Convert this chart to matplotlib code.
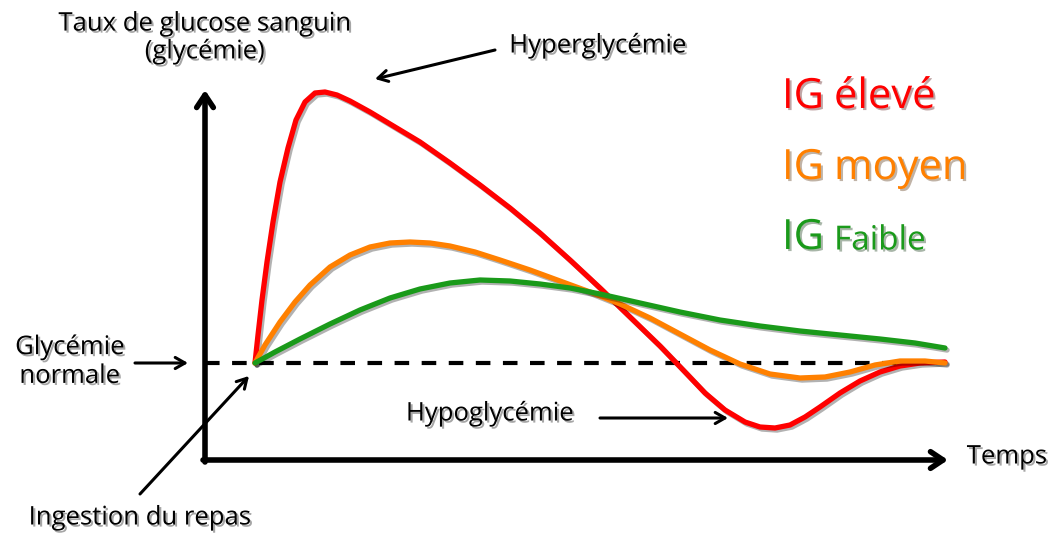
import matplotlib
matplotlib.use("Agg")
import matplotlib.pyplot as plt
import matplotlib.patheffects as pe

# curve points (x, y in image pixels, y grows downward)
red_x = [255, 258, 262, 267, 273, 280, 288, 296, 305, 315, 325, 337, 350, 370, 395, 420, 450, 480, 510,
         540, 570, 600, 630, 660, 685, 705, 725, 745, 760, 775, 790, 805, 820, 840, 860, 880, 900, 920, 945]
red_y = [363, 335, 300, 262, 222, 182, 148, 120, 102, 93, 92, 95, 101, 112, 127, 142, 163, 185, 208,
         233, 260, 288, 317, 346, 372, 393, 410, 422, 427, 428, 425, 417, 407, 393, 381, 372, 366, 363, 362]
orange_x = [255, 265, 280, 295, 310, 330, 350, 370, 390, 410, 430, 450, 475, 500, 530, 560, 590, 620,
            650, 680, 710, 740, 770, 800, 825, 850, 875, 900, 925, 945]
orange_y = [363, 345, 322, 302, 285, 267, 255, 247, 243, 242, 243, 246, 252, 260, 270, 281, 292, 304,
            318, 334, 350, 364, 374, 378, 377, 372, 365, 361, 361, 363]
green_x = [255, 275, 300, 330, 360, 390, 420, 450, 480, 510, 540, 570, 600, 640, 680, 720, 760, 800,
           840, 880, 915, 945]
green_y = [363, 352, 339, 324, 310, 298, 289, 283, 280, 281, 284, 288, 294, 303, 312, 320, 326, 331,
           335, 339, 343, 348]

series = [("élevé", red_x, red_y, "#ff0000", 97),
          ("moyen", orange_x, orange_y, "#ff8000", 168),
          ("Faible", green_x, green_y, "#1a9a1a", 238)]

normal_level = 363
W, H = 1051, 536

fig = plt.figure(figsize=(W / 100, H / 100), dpi=100)
ax = fig.add_axes([0, 0, 1, 1])
ax.set_xlim(0, W)
ax.set_ylim(H, 0)
ax.axis("off")

txt_shadow = [pe.SimplePatchShadow(offset=(1.5, -1.5), alpha=0.35), pe.Normal()]
line_shadow = [pe.SimpleLineShadow(offset=(1.5, -1.5), alpha=0.3), pe.Normal()]
font = "Open Sans"
fs = 18.5

# axes with open arrow heads
ax.annotate("", xy=(205, 90), xytext=(205, 462),
            arrowprops=dict(arrowstyle="->,head_length=0.9,head_width=0.6", lw=4, color="black",
                            shrinkA=0, shrinkB=0))
ax.annotate("", xy=(948, 460), xytext=(203, 460),
            arrowprops=dict(arrowstyle="->,head_length=0.9,head_width=0.6", lw=4, color="black",
                            shrinkA=0, shrinkB=0))

# normal level dashed line
ax.plot([205, 945], [normal_level, normal_level], color="black", lw=3, dashes=(3.5, 3))

for name, xs, ys, col, ty in series:
    ax.plot(xs, ys, color=col, lw=3.8, solid_capstyle="round", path_effects=line_shadow)
    ax.text(782, ty, "IG", color=col, fontsize=30, family=font, va="center", ha="left",
            path_effects=txt_shadow)
    small = name == "Faible"
    ax.text(834, ty + (3 if small else 0), name, color=col,
            fontsize=24 if small else 30, family=font, va="center", ha="left",
            path_effects=txt_shadow)

# labels
ax.text(205, 38, "Taux de glucose sanguin\n(glycémie)", fontsize=fs, family=font, ha="center",
        va="center", linespacing=1.15, path_effects=txt_shadow)
ax.text(1007, 457, "Temps", fontsize=fs, family=font, ha="center", va="center", path_effects=txt_shadow)
ax.text(70, 362, "Glycémie\nnormale", fontsize=fs, family=font, ha="center", va="center",
        linespacing=1.2, path_effects=txt_shadow)
ax.text(140, 518, "Ingestion du repas", fontsize=fs, family=font, ha="center", va="center",
        path_effects=txt_shadow)
ax.text(598, 46, "Hyperglycémie", fontsize=fs, family=font, ha="center", va="center",
        path_effects=txt_shadow)
ax.text(490, 414, "Hypoglycémie", fontsize=fs, family=font, ha="center", va="center",
        path_effects=txt_shadow)

arrow = dict(arrowstyle="->,head_length=0.7,head_width=0.4", lw=2.2, color="black", shrinkA=0, shrinkB=0)
ax.annotate("", xy=(375, 79), xytext=(495, 50), arrowprops=arrow)
ax.annotate("", xy=(728, 418), xytext=(600, 418), arrowprops=arrow)
ax.annotate("", xy=(188, 363), xytext=(135, 363), arrowprops=arrow)
ax.annotate("", xy=(249, 376), xytext=(140, 494), arrowprops=arrow)

fig.savefig("out.png", dpi=100, facecolor="white")
